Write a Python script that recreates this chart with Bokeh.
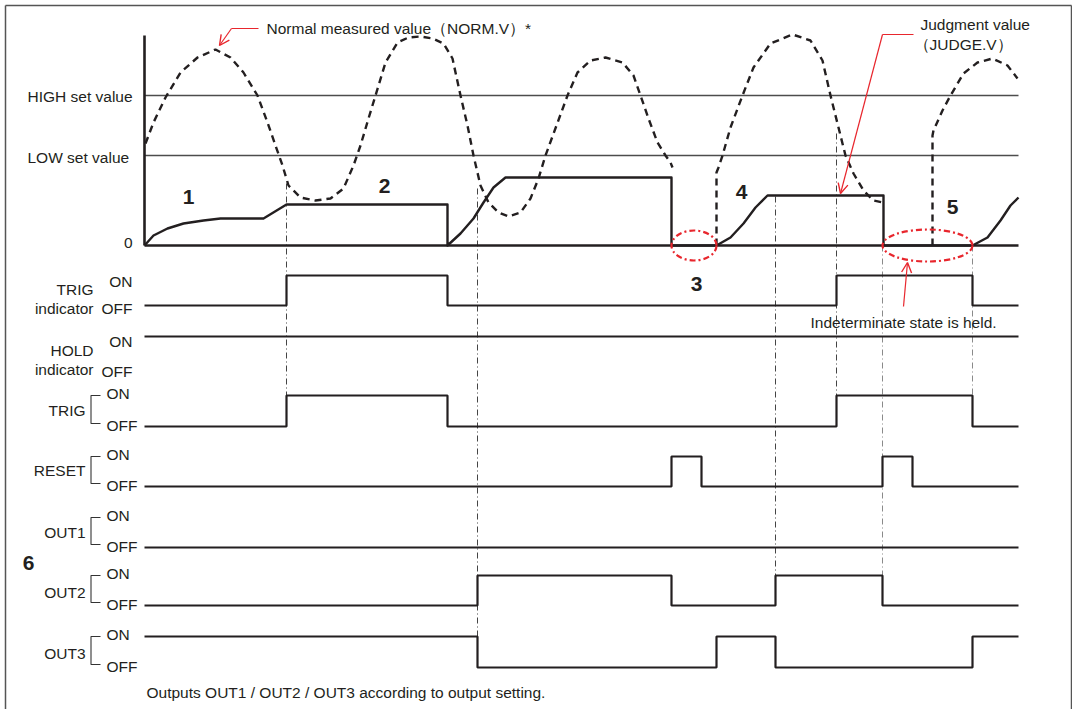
from bokeh.plotting import figure
from bokeh.models import Range1d, Arrow, OpenHead
from bokeh.core.properties import value
from bokeh.embed import file_html
from bokeh.resources import INLINE

# ---------------- data (time t in diagram units, values in value units) ----------------
HIGH_SET = 150
LOW_SET = 90
T_END = 874
AXIS_TOP = 210

# Normal measured value (NORM.V), three measured stretches
NORM_T1 = [1, 9, 21, 36, 53, 71, 86, 99, 113, 123, 131, 138, 144, 156, 171, 186, 199, 209, 216,
           224, 231, 241, 253, 264, 276, 288, 299, 308, 316, 323, 329, 336, 344, 354, 364, 376,
           386, 394, 401, 412, 423, 433, 446, 461, 478, 489, 496, 504, 513, 521, 526, 528]
NORM_V1 = [102, 123, 148, 173, 188, 196, 188, 173, 150, 123, 100, 80, 60, 48, 45, 47, 57, 80, 100,
           127, 150, 183, 203, 208, 209, 207, 202, 187, 150, 120, 90, 60, 43, 33, 29, 33,
           47, 67, 90, 120, 150, 173, 185, 188, 183, 170, 150, 127, 103, 90, 83, 78]
NORM_T2 = [572, 572, 574, 578, 586, 598, 609, 626, 648, 666, 678, 686, 694, 701, 709, 719, 729, 738]
NORM_V2 = [0, 73, 78, 90, 118, 150, 178, 202, 211, 205, 185, 150, 118, 90, 72, 55, 45, 43]
NORM_T3 = [788, 788, 789, 798, 806, 819, 833, 848, 863, 873]
NORM_V3 = [0, 110, 115, 135, 150, 172, 183, 187, 180, 167]

# Judgment value (JUDGE.V)
JUDGE_T = [0, 9, 23, 39, 59, 76, 119, 142, 303, 303, 316, 329, 339, 349, 361, 527, 527, 572,
           586, 599, 611, 623, 739, 739, 828, 843, 856, 866, 874]
JUDGE_V = [0, 10, 17, 22, 25, 27, 27, 41, 41, 0, 12, 27, 43, 58, 68, 68, 0, 0,
           8, 22, 38, 50, 50, 0, 0, 8, 25, 40, 48]

# Digital signals: transition times and states (1 = ON, 0 = OFF)
TRIG_IND_T = [0, 142, 303, 692, 828, 874]
TRIG_IND_S = [0, 1, 0, 1, 0, 0]
HOLD_IND_T = [0, 874]
HOLD_IND_S = [1, 1]
TRIG_T = [0, 142, 303, 692, 828, 874]
TRIG_S = [0, 1, 0, 1, 0, 0]
RESET_T = [0, 527, 557, 738, 768, 874]
RESET_S = [0, 1, 0, 1, 0, 0]
OUT1_T = [0, 874]
OUT1_S = [0, 0]
OUT2_T = [0, 333, 527, 631, 738, 874]
OUT2_S = [0, 1, 0, 1, 0, 0]
OUT3_T = [0, 333, 572, 631, 828, 874]
OUT3_S = [1, 0, 1, 0, 1, 1]

# indeterminate stretches (start, end)
HELD_SPANS = [(527, 572), (738, 828)]

# ---------------- layout ----------------
W, H = 1072, 709
PX0 = 0
X_T0 = 144
Y_V0 = 245
INK = "#231f20"
RED = "#e8262d"
FONT = "Liberation Sans"
FS = "15.5px"

p = figure(width=W, height=H, x_range=Range1d(PX0, PX0 + W), y_range=Range1d(PX0 + H, PX0),
           output_backend="svg", toolbar_location=None, min_border=0,
           x_axis_location=None, y_axis_location=None, outline_line_color=None,
           background_fill_color="white", border_fill_color="white")
p.grid.visible = False

p.extra_x_ranges = {"time": Range1d(PX0 - X_T0, PX0 + W - X_T0)}


def row_range(y_off, y_on):
    h = y_off - y_on
    return Range1d((y_off - (PX0 + H)) / h, (y_off - PX0) / h)


ROWS = {
    "trig_ind": (305, 275),
    "hold_ind": (366, 336),
    "trig": (426, 395),
    "reset": (486, 456),
    "out1": (547, 517),
    "out2": (605, 575),
    "out3": (667, 636),
}
yr = {"value": Range1d(Y_V0 - (PX0 + H), Y_V0 - PX0)}
for k, (yo, yn) in ROWS.items():
    yr[k] = row_range(yo, yn)
p.extra_y_ranges = yr

# border
p.line([5, 5], [H + 5, 5], line_color="#555555", line_width=1.5)
p.line([5, 1071], [5, 5], line_color="#555555", line_width=1.5)
p.line([1071, 1071], [5, H + 5], line_color="#555555", line_width=1.5)

# threshold lines
for lv in (HIGH_SET, LOW_SET):
    p.line([0, T_END], [lv, lv], x_range_name="time", y_range_name="value",
           line_color="#4d4d4d", line_width=1.3)

# guides (dash-dot)
GUIDES = [(142, 183, 397, "#444444"), (333, 188, 636, "#444444"), (631, 196, 575, "#444444"),
          (692, 133, 397, "#444444"), (738, 245, 575, "#8a8a8a"), (828, 245, 397, "#8a8a8a")]
for t, y0, y1, c in GUIDES:
    p.segment(x0=[t], y0=[y0], x1=[t], y1=[y1], x_range_name="time",
              line_color=c, line_width=1, line_dash="6 3 1 3")

# axis & baseline
p.line([0, 0], [0, AXIS_TOP], x_range_name="time", y_range_name="value",
       line_color=INK, line_width=2.6)
p.line([0, T_END], [0, 0], x_range_name="time", y_range_name="value",
       line_color=INK, line_width=2.6)

# NORM.V dashed
for tt, vv in ((NORM_T1, NORM_V1), (NORM_T2, NORM_V2), (NORM_T3, NORM_V3)):
    p.line(tt, vv, x_range_name="time", y_range_name="value", line_color=INK,
           line_width=2.4, line_dash="7 5")

# JUDGE.V
p.line(JUDGE_T, JUDGE_V, x_range_name="time", y_range_name="value", line_color=INK,
       line_width=2.4, line_join="round")

# red ellipses
for a, b in HELD_SPANS:
    p.ellipse(x=[(a + b) / 2], y=[0], width=[b - a], height=[30 if b - a < 60 else 32],
              x_range_name="time", y_range_name="value", fill_color=None,
              line_color=RED, line_width=2.2, line_dash="6 3 2 3")

# signals
for name, tt, ss in (("trig_ind", TRIG_IND_T, TRIG_IND_S), ("hold_ind", HOLD_IND_T, HOLD_IND_S),
                     ("trig", TRIG_T, TRIG_S), ("reset", RESET_T, RESET_S),
                     ("out1", OUT1_T, OUT1_S), ("out2", OUT2_T, OUT2_S), ("out3", OUT3_T, OUT3_S)):
    p.step(tt, ss, mode="after", x_range_name="time", y_range_name=name,
           line_color=INK, line_width=2.2)

# brackets
for name in ("trig", "reset", "out1", "out2", "out3"):
    yo, yn = ROWS[name]
    top, bot = yn, yo - 3
    p.line([100, 90.5, 90.5, 100], [top, top, bot, bot], line_color="#333333", line_width=1.1)

# red arrows
p.line([258, 231], [28, 28], line_color=RED, line_width=1.2)
p.line([913, 882], [34, 34], line_color=RED, line_width=1.2)
for xs, ys, xe, ye in ((231, 28, 219, 45), (882, 34, 840, 193), (903, 306, 907, 262)):
    p.add_layout(Arrow(end=OpenHead(size=10, line_color=RED, line_width=1.4),
                       x_start=xs, y_start=ys, x_end=xe, y_end=ye,
                       line_color=RED, line_width=1.2))


def label(x, y, s, align="left", size=FS, bold=False):
    p.text(x=[x], y=[y], text=[s], text_font=value(FONT), text_font_size=size,
           text_color=INK, text_align=align, text_baseline="middle",
           text_font_style="bold" if bold else "normal")


label(266, 28, "Normal measured value（NORM.V）*")
label(920, 24, "Judgment value")
label(913, 44, "（JUDGE.V）")
label(27, 96, "HIGH set value")
label(27, 157, "LOW set value")
label(132, 242, "0", "right")
for x, y, s in ((188, 196, "1"), (384, 185, "2"), (696, 283, "3"), (741, 191, "4"),
                (952, 206, "5"), (28, 562, "6")):
    label(x, y, s, "center", "21px", True)

label(93, 289, "TRIG", "right")
label(93, 308, "indicator", "right")
label(132, 281, "ON", "right")
label(132, 308, "OFF", "right")
label(93, 350, "HOLD", "right")
label(93, 369, "indicator", "right")
label(132, 341, "ON", "right")
label(132, 371, "OFF", "right")

for name, txt, ly in (("trig", "TRIG", 410), ("reset", "RESET", 470), ("out1", "OUT1", 532),
                      ("out2", "OUT2", 592), ("out3", "OUT3", 653)):
    yo, yn = ROWS[name]
    label(85, ly, txt, "right")
    label(106, yn - 2, "ON")
    label(106, yo - 1, "OFF")

label(810, 322, "Indeterminate state is held.")
label(146, 692, "Outputs OUT1 / OUT2 / OUT3 according to output setting.")

open("out.html", "w").write(file_html(p, INLINE))
